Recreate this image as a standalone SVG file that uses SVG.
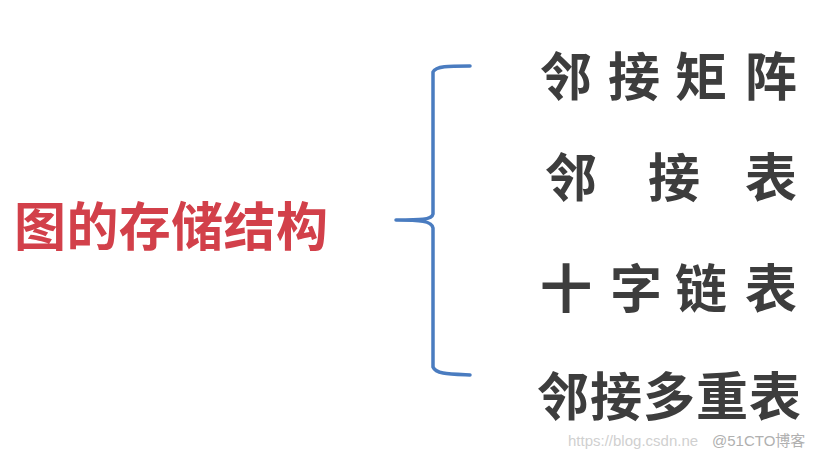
<svg xmlns="http://www.w3.org/2000/svg" width="819" height="459" viewBox="0 0 819 459">
<style>
.t{font-family:"Noto Sans CJK SC","Noto Sans",sans-serif;font-weight:700;font-size:52px;fill:#3d3d3d}
.title{font-family:"Noto Sans CJK SC","Noto Sans",sans-serif;font-weight:700;font-size:52px;fill:#d2404a}
.brace{fill:none;stroke:#4a7cc0;stroke-width:3.5;stroke-linecap:round;stroke-linejoin:round}
.wm{font-family:"Liberation Sans","Noto Sans CJK SC",sans-serif;font-size:15px}
</style>
<rect width="819" height="459" fill="#ffffff"/>
<g id="title"><text class="title" x="14" y="246" textLength="314">图的存储结构</text></g>
<g id="connectors">
<path class="brace" d="M470 66 C448 66 436 66 433 72 L433 214 C432 220 420 220 396 220 C420 220 432 221 433 228 L433 367 C436 374 448 374 470 375"/>
</g>
<g id="n1"><text class="t" x="540 608 675 745" y="96">邻接矩阵</text></g>
<g id="n2"><text class="t" x="545 648 745" y="197">邻接表</text></g>
<g id="n3"><text class="t" x="540 610 675 745" y="308">十字链表</text></g>
<g id="n4"><text class="t" x="537 590 643 696 749" y="416">邻接多重表</text></g>
<g id="watermark">
<text class="wm" x="568" y="446" fill="#d0d0d0">https://blog.csdn.ne</text>
<text class="wm" x="712" y="446" fill="#b0b0b0">@51CTO博客</text>
</g>
</svg>
